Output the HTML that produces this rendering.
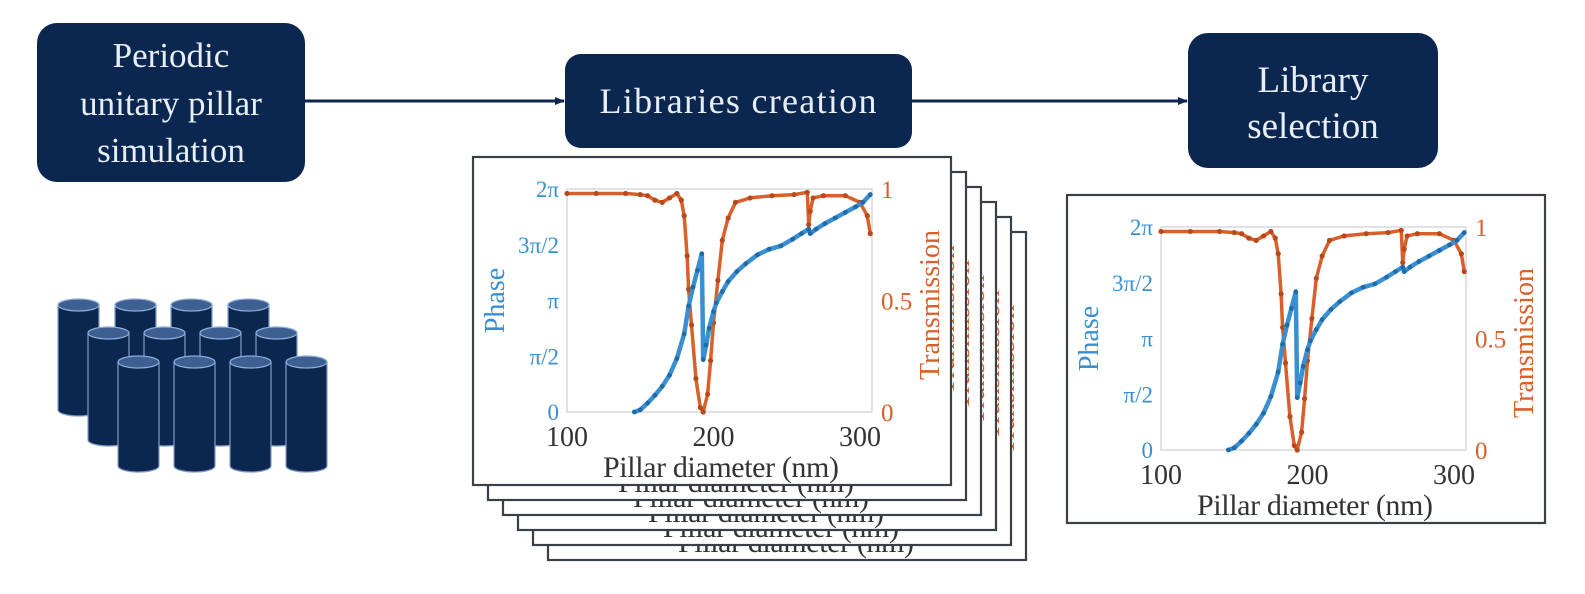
<!DOCTYPE html>
<html><head><meta charset="utf-8">
<style>
html,body{margin:0;padding:0;background:#fff;}
svg{display:block;font-family:"Liberation Serif",serif;}
</style></head>
<body>
<svg id="fig" width="1585" height="594" viewBox="0 0 1585 594" xmlns="http://www.w3.org/2000/svg">
  <defs>
    <marker id="ah" markerWidth="10" markerHeight="10" refX="9" refY="5" orient="auto" markerUnits="userSpaceOnUse">
      <path d="M0,1 L10,5 L0,9 Z" fill="#0b2750"/>
    </marker>
  </defs>
  <g>
    <rect x="37" y="23" width="268" height="159" rx="20" fill="#0b2750"/>
    <text x="171" y="67" text-anchor="middle" font-size="35" fill="#e8eef6">Periodic</text>
    <text x="171" y="115" text-anchor="middle" font-size="35" fill="#e8eef6">unitary pillar</text>
    <text x="171" y="162" text-anchor="middle" font-size="35" fill="#e8eef6">simulation</text>
  </g>
  <g>
    <rect x="565" y="54" width="347" height="94" rx="16" fill="#0b2750"/>
    <text x="738" y="113" text-anchor="middle" font-size="36" fill="#e8eef6" textLength="277">Libraries creation</text>
  </g>
  <g>
    <rect x="1188" y="33" width="250" height="135" rx="20" fill="#0b2750"/>
    <text x="1313" y="92" text-anchor="middle" font-size="37" fill="#e8eef6">Library</text>
    <text x="1313" y="138" text-anchor="middle" font-size="37" fill="#e8eef6">selection</text>
  </g>
  <line x1="305" y1="101" x2="564" y2="101" stroke="#0b2750" stroke-width="3" marker-end="url(#ah)"/>
  <line x1="912" y1="101" x2="1187" y2="101" stroke="#0b2750" stroke-width="3" marker-end="url(#ah)"/>
  <g id="pillars"></g>
  <g id="stack"></g>
  <g id="right"></g>
</svg>
<script>
const NS = "http://www.w3.org/2000/svg";
// ---- chart data ----
const phaseD = [146,150,155,160,165,170,175,180,183,186,189,192,193,195,197,200,202,206,210,216,222,230,238,246,254,260,265,266,270,276,283,290,297,302,307];
const phaseV = [0,0.02,0.08,0.15,0.23,0.33,0.48,0.7,0.95,1.12,1.27,1.42,0.47,0.6,0.75,0.9,0.98,1.08,1.17,1.26,1.33,1.41,1.46,1.49,1.55,1.6,1.64,1.6,1.64,1.69,1.74,1.79,1.84,1.88,1.95];
const transD = [100,120,140,150,155,160,165,170,175,178,180,182,183,185,188,191,193,196,198,200,203,206,210,215,225,240,255,264,265,266,268,275,290,300,305,307];
const transV = [0.98,0.98,0.98,0.975,0.97,0.95,0.94,0.96,0.98,0.95,0.88,0.7,0.55,0.39,0.15,0.02,0,0.08,0.23,0.4,0.59,0.77,0.87,0.94,0.96,0.97,0.975,0.985,0.84,0.9,0.96,0.97,0.97,0.94,0.88,0.8];
const xTicks = [100,200,300];
const phaseTickLabels = ["0","\u03c0/2","\u03c0","3\u03c0/2","2\u03c0"];
const transTicks = [0,0.5,1];
const transTickLabels = ["0","0.5","1"];

const BLUE = "#3a8fd2", ORANGE = "#d9602a";
function el(tag, attrs, parent){
  const e = document.createElementNS(NS, tag);
  for (const k in attrs) e.setAttribute(k, attrs[k]);
  parent.appendChild(e); return e;
}
function txt(parent, x, y, s, size, fill, anchor, extra){
  const t = el("text", Object.assign({x:x, y:y, "font-size":size, fill:fill, "text-anchor":anchor||"start"}, extra||{}), parent);
  t.textContent = s; return t;
}

// panel at frame origin (fx,fy); geometry relative to frame (476x328)
function drawPanel(parent, fx, fy, full){
  const FW = 478, FH = 328;
  const px0 = fx + 94, px1 = fx + 399, py0 = fy + 32, py1 = fy + 255, xs = 146.5;
  const g = el("g", {}, parent);
  
  
  const fr = el("rect", {x:fx, y:fy, width:FW, height:FH, fill:"#fff", stroke:"#3a3f48", "stroke-width":2.2}, g);
  
  
  const xl = txt(g, fx + 248, fy + 320, "Pillar diameter (nm)", 30, "#333", "middle", {textLength:236});
  
  
  const tl = txt(g, 0, 0, "Transmission", 28, ORANGE, "middle", {transform:`translate(${fx+466},${fy+148}) rotate(-90)`});
  
  
  if (!full) return;
  const X = d => px0 + (d - 100) / 100 * xs;
  const YP = v => py1 - v / 2 * (py1 - py0);
  const YT = v => py1 - v * (py1 - py0);
  const ax = el("rect", {x:px0, y:py0, width:px1-px0, height:py1-py0, fill:"none", stroke:"#d6d9de", "stroke-width":1.5}, g);
  
  
  phaseTickLabels.forEach((s,i)=>{
    const t = txt(g, px0-8, YP(i*0.5)+8, s, 23, BLUE, "end");
    
    
  });
  transTicks.forEach((v,i)=>{
    const t = txt(g, px1+9, YT(v)+9, transTickLabels[i], 25, ORANGE, "start");
    
    
  });
  xTicks.forEach(d=>{
    const t = txt(g, X(d), fy + 289, String(d), 28, "#333", "middle");
    
    
  });
  const pl = txt(g, 0, 0, "Phase", 28, BLUE, "middle", {transform:`translate(${fx+31},${(py0+py1)/2}) rotate(-90)`});
  
  
  const tp = transD.map((d,i)=>X(d).toFixed(1)+","+YT(transV[i]).toFixed(1)).join(" ");
  const tline = el("polyline", {points:tp, fill:"none", stroke:ORANGE, "stroke-width":3.5, "stroke-linejoin":"round"}, g);
  
  
  transD.forEach((d,i)=>{
    const c = el("circle", {cx:X(d), cy:YT(transV[i]), r:2.6, fill:"#b8491a"}, g);
    
    
  });
  const pp = phaseD.map((d,i)=>X(d).toFixed(1)+","+YP(phaseV[i]).toFixed(1)).join(" ");
  const pline = el("polyline", {points:pp, fill:"none", stroke:BLUE, "stroke-width":4.5, "stroke-linejoin":"round"}, g);
  
  
  phaseD.forEach((d,i)=>{
    const c = el("circle", {cx:X(d), cy:YP(phaseV[i]), r:2.4, fill:"#1f6aa8"}, g);
    
    
  });
}

const stack = document.getElementById("stack");
for (let k = 5; k >= 0; k--){
  const o = 15*k;
  drawPanel(stack, 473+o, 157+o, k===0);
}
drawPanel(document.getElementById("right"), 1067, 195, true);

const pg = document.getElementById("pillars");
const rows = [
  {xs:[58,115,171,228], top:305, bot:410},
  {xs:[88,144,200,256], top:333, bot:440},
  {xs:[118,174,230,286], top:362, bot:466}
];
rows.forEach(r=>{
  r.xs.forEach(x=>{
    const w = 41, g = el("g", {}, pg);
    
    
    el("path", {d:`M${x},${r.top} L${x},${r.bot} A${w/2},6 0 0 0 ${x+w},${r.bot} L${x+w},${r.top} Z`, fill:"#0b2750", stroke:"#7d9cc8", "stroke-width":1.2}, g);
    el("ellipse", {cx:x+w/2, cy:r.top, rx:w/2, ry:6, fill:"#3d5f92", stroke:"#8fadd6", "stroke-width":1.2}, g);
  });
});
</script>
</body></html>
